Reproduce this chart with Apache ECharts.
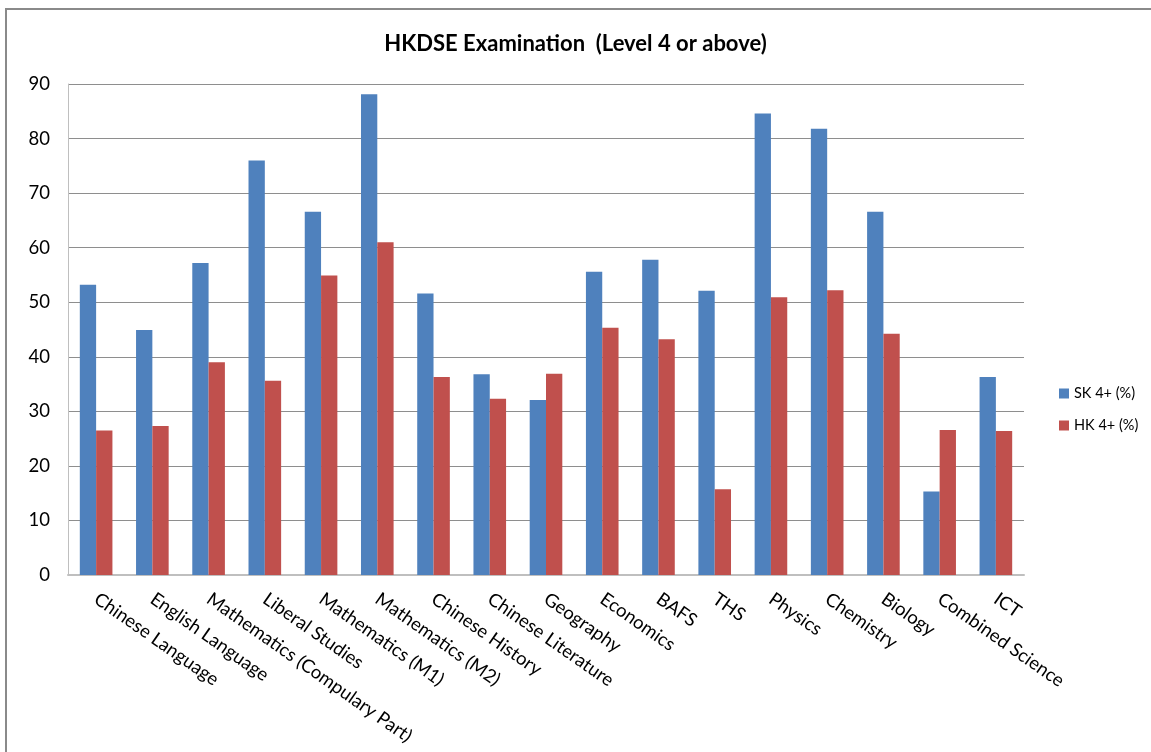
<!DOCTYPE html>
<html>
<head>
<meta charset="utf-8">
<script src="https://cdn.jsdelivr.net/npm/echarts@6/dist/echarts.min.js"></script>
<style>
  html, body { margin: 0; padding: 0; background: #fff; }
  #chart { width: 1151px; height: 752px; }
</style>
</head>
<body>
<div id="chart"></div>
<script>
// subjects along the x axis
var subjects = [
  'Chinese Language', 'English Language', 'Mathematics (Compulary Part)',
  'Liberal Studies', 'Mathematics (M1)', 'Mathematics (M2)', 'Chinese History',
  'Chinese Literature', 'Geography', 'Economics', 'BAFS', 'THS', 'Physics',
  'Chemistry', 'Biology', 'Combined Science', 'ICT'
];
var skValues = [53.2, 44.9, 57.2, 76.0, 66.6, 88.1, 51.6, 36.8, 32.1, 55.6, 57.8, 52.1, 84.6, 81.8, 66.6, 15.3, 36.3];
var hkValues = [26.5, 27.3, 39.0, 35.6, 54.9, 61.0, 36.3, 32.3, 36.9, 45.3, 43.2, 15.7, 50.9, 52.2, 44.2, 26.6, 26.4];
var seriesNames = ['SK 4+ (%)', 'HK 4+ (%)'];

var chartDom = document.getElementById('chart');
var myChart = echarts.init(chartDom);
var font = 'Lato, "Open Sans", sans-serif';

var option = {
  animation: false,
  textStyle: { fontFamily: font },
  title: {
    text: 'HKDSE Examination  (Level 4 or above)',
    left: 'center',
    top: 28,
    textStyle: { fontSize: 22, fontWeight: 'bold', color: '#000', fontFamily: font }
  },
  graphic: [{
    type: 'rect',
    shape: { x: 6, y: 9, width: 1200, height: 800 },
    style: { fill: 'none', stroke: '#8a8a8a', lineWidth: 2 }
  }],
  legend: {
    orient: 'vertical',
    left: 1054,
    top: 381,
    itemWidth: 10,
    itemHeight: 10,
    itemGap: 17,
    icon: 'rect',
    textStyle: { fontSize: 14.5, color: '#000', fontFamily: font },
    data: seriesNames
  },
  grid: { left: 68, right: 127, top: 84, bottom: 177 },
  xAxis: {
    type: 'category',
    data: subjects,
    axisLine: { lineStyle: { color: '#bfbfbf', width: 2 } },
    axisTick: { show: false },
    axisLabel: {
      interval: 0,
      rotate: -35,
      margin: 22,
      fontSize: 18.5,
      color: '#000',
      fontFamily: font
    }
  },
  yAxis: {
    type: 'value',
    min: 0,
    max: 90,
    interval: 10,
    axisLine: { show: true, lineStyle: { color: '#bfbfbf', width: 1 } },
    axisTick: { show: false },
    axisLabel: { fontSize: 18.5, color: '#000', margin: 18, fontFamily: font },
    splitLine: { lineStyle: { color: '#8e8e8e', width: 1 } }
  },
  series: [
    {
      name: seriesNames[0],
      type: 'bar',
      data: skValues,
      barGap: '0%',
      barCategoryGap: '42%',
      itemStyle: { color: '#4F81BD' }
    },
    {
      name: seriesNames[1],
      type: 'bar',
      data: hkValues,
      barGap: '0%',
      barCategoryGap: '42%',
      itemStyle: { color: '#C0504D' }
    }
  ]
};

option && myChart.setOption(option);
</script>
</body>
</html>
